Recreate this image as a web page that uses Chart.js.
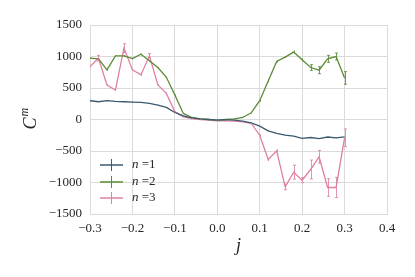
<!DOCTYPE html>
<html>
<head>
<meta charset="utf-8">
<script src="https://cdn.jsdelivr.net/npm/chart.js@4"></script>
<style>
  html, body { margin: 0; padding: 0; background: #fff; }
  #wrap { width: 415px; height: 277px; }
</style>
</head>
<body>
<div id="wrap"><canvas id="myChart" width="415" height="277"></canvas></div>
<script>
var jValues = [-0.30, -0.28, -0.26, -0.24, -0.22, -0.20, -0.18, -0.16, -0.14, -0.12, -0.10,
  -0.08, -0.06, -0.04, -0.02, 0.00, 0.02, 0.04, 0.06, 0.08, 0.10,
  0.12, 0.14, 0.16, 0.18, 0.20, 0.22, 0.24, 0.26, 0.28, 0.30];

var c1 = [298, 282, 298, 287, 282, 277, 271, 255, 229, 191, 112,
  58, 27, 11, 0, -11, -3, -10, -26, -53, -106,
  -180, -222, -249, -265, -300, -286, -302, -278, -291, -275];
var c1Err = [4, 4, 4, 4, 4, 4, 4, 4, 4, 4, 4,
  3, 3, 3, 3, 3, 3, 3, 3, 3, 4,
  4, 4, 4, 4, 5, 5, 5, 5, 5, 6];

var c2 = [973, 963, 787, 1011, 1011, 968, 1037, 931, 825, 670, 388,
  96, 32, 11, 0, -10, 0, 10, 32, 106, 298,
  612, 920, 990, 1070, 947, 825, 782, 963, 1000, 660];
var c2Err = [10, 12, 12, 10, 10, 12, 12, 10, 10, 10, 10,
  6, 5, 5, 5, 5, 5, 5, 5, 8, 15,
  20, 15, 15, 25, 25, 45, 55, 55, 55, 100];

var c3 = [840, 973, 548, 468, 1133, 787, 708, 1011, 548, 415, 122,
  43, 16, 0, -10, -21, -21, -25, -37, -63, -249,
  -635, -497, -1069, -836, -963, -794, -592, -1079, -1079, -290];
var c3Err = [15, 45, 15, 15, 70, 15, 15, 35, 15, 15, 10,
  6, 5, 5, 5, 5, 5, 5, 5, 8, 15,
  25, 25, 45, 110, 40, 150, 100, 140, 160, 140];

var seriesLabels = ['1', '2', '3'];
var colors = ['#3b5a6e', '#5c8b35', '#de81a0'];
var xTicks = [-0.3, -0.2, -0.1, 0.0, 0.1, 0.2, 0.3, 0.4];
var yTicks = [-1500, -1000, -500, 0, 500, 1000, 1500];

var serif = '"Liberation Serif", "DejaVu Serif", serif';

function toPoints(ys) {
  return jValues.map(function(x, i) { return { x: x, y: ys[i] }; });
}

function minus(s) {
  return s.replace('-', '\u2212');
}

var errorBars = {
  id: 'errorBars',
  afterDatasetsDraw: function(chart) {
    var ctx = chart.ctx;
    var xs = chart.scales.x, ys = chart.scales.y;
    chart.data.datasets.forEach(function(ds) {
      ctx.save();
      ctx.strokeStyle = ds.borderColor;
      ctx.globalAlpha = 0.85;
      ctx.lineWidth = 1;
      ds.data.forEach(function(p, i) {
        var e = ds.errors[i];
        var px = Math.round(xs.getPixelForValue(p.x)) + 0.5;
        var top = ys.getPixelForValue(p.y + e);
        var bot = ys.getPixelForValue(p.y - e);
        ctx.beginPath();
        ctx.moveTo(px, top);
        ctx.lineTo(px, bot);
        if (bot - top > 4) {
          ctx.moveTo(px - 1.5, top);
          ctx.lineTo(px + 1.5, top);
          ctx.moveTo(px - 1.5, bot);
          ctx.lineTo(px + 1.5, bot);
        }
        ctx.stroke();
      });
      ctx.restore();
    });
  }
};

var extras = {
  id: 'extras',
  afterDraw: function(chart) {
    var ctx = chart.ctx;
    var area = chart.chartArea;
    ctx.save();
    // x title
    ctx.fillStyle = '#262626';
    ctx.font = 'italic 18px ' + serif;
    ctx.textAlign = 'center';
    ctx.textBaseline = 'middle';
    ctx.fillText('j', (area.left + area.right) / 2, 246);
    // y title
    ctx.save();
    ctx.translate(31, (area.top + area.bottom) / 2);
    ctx.rotate(-Math.PI / 2);
    ctx.font = 'italic 18px ' + serif;
    ctx.textAlign = 'left';
    ctx.fillText('C', -10, 0);
    var cw = ctx.measureText('C').width;
    ctx.font = 'italic 12px ' + serif;
    ctx.fillText('m', -10 + cw + 1, -6);
    ctx.restore();

    // legend
    var rowY = [165, 182, 198];
    chart.data.datasets.forEach(function(ds, i) {
      var y = rowY[i];
      ctx.strokeStyle = ds.borderColor;
      ctx.lineWidth = 1.5;
      ctx.beginPath();
      ctx.moveTo(100, y);
      ctx.lineTo(123, y);
      ctx.stroke();
      ctx.lineWidth = 1;
      ctx.beginPath();
      ctx.moveTo(111.5, y - 6);
      ctx.lineTo(111.5, y + 6);
      ctx.stroke();
      ctx.fillStyle = '#262626';
      ctx.textAlign = 'left';
      ctx.textBaseline = 'middle';
      ctx.font = 'italic 13px ' + serif;
      ctx.fillText('n', 132, y);
      var nw = ctx.measureText('n').width;
      ctx.font = '13px ' + serif;
      ctx.fillText(' =' + seriesLabels[i], 132 + nw, y);
    });
    ctx.restore();
  }
};

var ctx = document.getElementById('myChart').getContext('2d');

var myChart = new Chart(ctx, {
  type: 'line',
  data: {
    datasets: [
      { label: 'n =1', data: toPoints(c1), errors: c1Err, borderColor: colors[0] },
      { label: 'n =2', data: toPoints(c2), errors: c2Err, borderColor: colors[1] },
      { label: 'n =3', data: toPoints(c3), errors: c3Err, borderColor: colors[2] }
    ].map(function(d) {
      d.borderWidth = 1.3;
      d.pointRadius = 0;
      d.tension = 0;
      d.fill = false;
      return d;
    })
  },
  options: {
    responsive: false,
    animation: false,
    devicePixelRatio: 1,
    layout: { padding: { top: 25, right: 28, left: 0, bottom: 0 } },
    plugins: {
      legend: { display: false },
      tooltip: { enabled: false }
    },
    scales: {
      x: {
        type: 'linear',
        min: -0.3,
        max: 0.4,
        afterBuildTicks: function(axis) {
          axis.ticks = xTicks.map(function(v) { return { value: v }; });
        },
        afterFit: function(axis) { axis.height = 63; },
        grid: { color: '#dadada', lineWidth: 1, drawTicks: false },
        border: { color: '#dadada' },
        ticks: {
          padding: 7,
          color: '#262626',
          font: { family: serif, size: 13 },
          callback: function(v) { return minus(v.toFixed(1)); }
        }
      },
      y: {
        min: -1500,
        max: 1500,
        afterBuildTicks: function(axis) {
          axis.ticks = yTicks.map(function(v) { return { value: v }; });
        },
        afterFit: function(axis) { axis.width = 90; },
        grid: { color: '#dadada', lineWidth: 1, drawTicks: false },
        border: { color: '#dadada' },
        ticks: {
          padding: 8,
          color: '#262626',
          font: { family: serif, size: 13 },
          callback: function(v) { return minus(String(v)); }
        }
      }
    }
  },
  plugins: [errorBars, extras]
});
</script>
</body>
</html>
